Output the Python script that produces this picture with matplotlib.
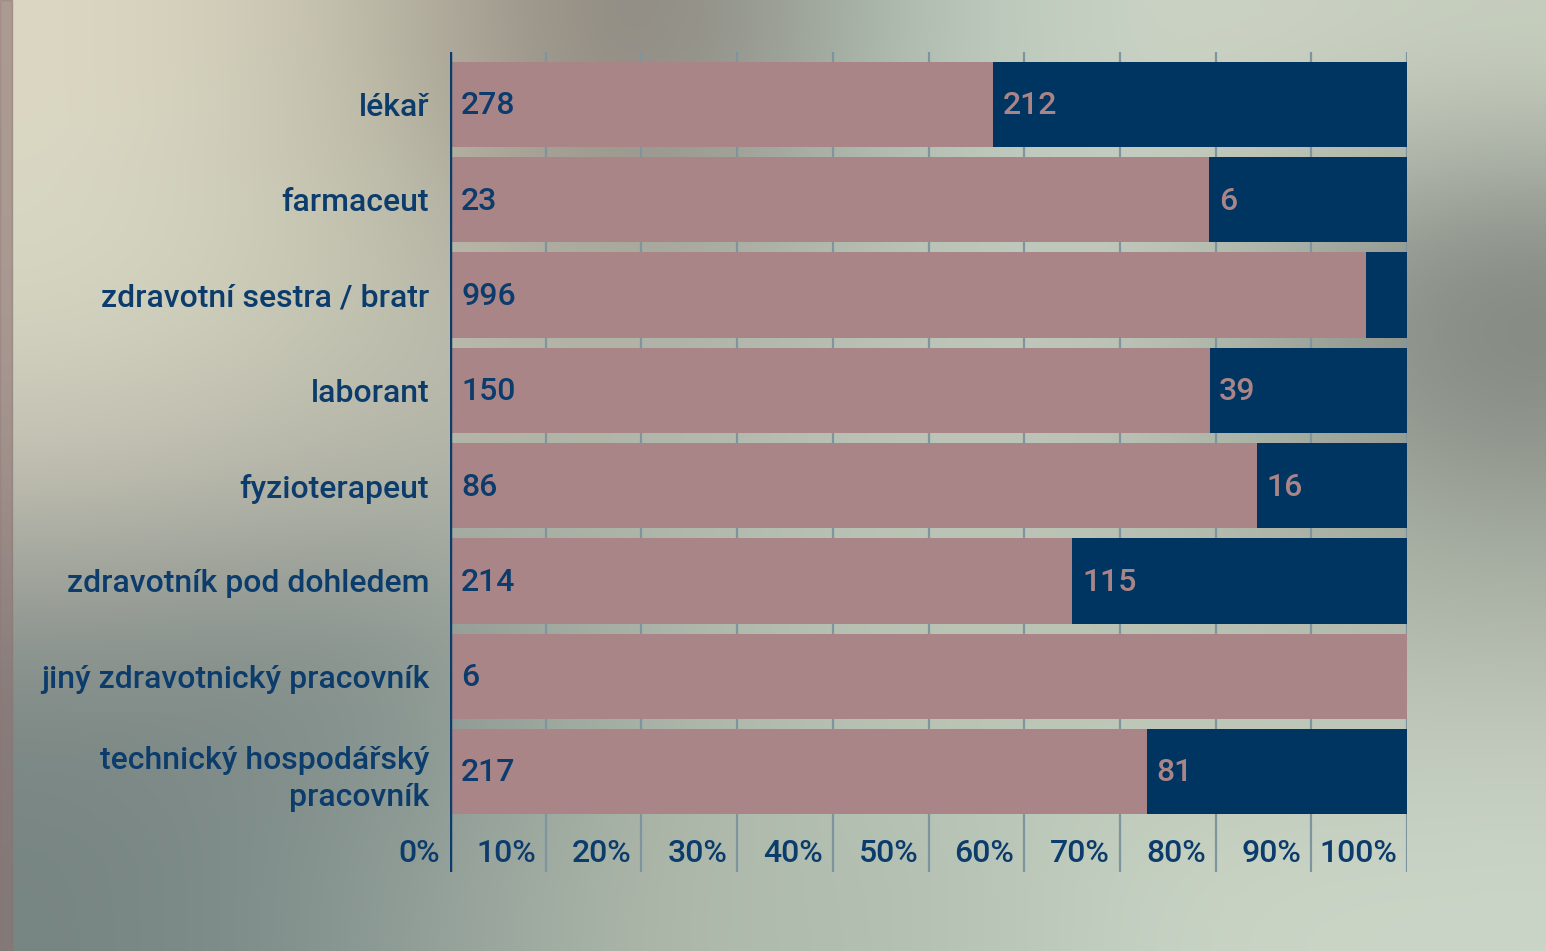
import matplotlib
matplotlib.use('Agg')

import matplotlib.pyplot as plt
import numpy as np

# data
categories = ["lékař", "farmaceut", "zdravotní sestra / bratr", "laborant",
              "fyzioterapeut", "zdravotník pod dohledem",
              "jiný zdravotnický pracovník", "technický hospodářský\npracovník"]
first = [278, 23, 996, 150, 86, 214, 6, 217]
second = [212, 6, 45, 39, 16, 115, 0, 81]
tick_values = [0, 10, 20, 30, 40, 50, 60, 70, 80, 90, 100]
tick_labels = ["0%", "10%", "20%", "30%", "40%", "50%", "60%", "70%", "80%", "90%", "100%"]

PINK = '#aa8588'
NAVY = '#003562'
TEXT = '#0c3c6c'
FS = 23
FW = 500

plt.rcParams['font.family'] = ['Roboto', 'DejaVu Sans']

fig = plt.figure(figsize=(15.46, 9.51), dpi=100)

# blurred-photo style background (rough colour field)
bg = np.array([
    [[221, 216, 196], [190, 188, 168], [128, 117, 112], [176, 196, 182], [208, 214, 200], [200, 208, 192]],
    [[214, 216, 196], [196, 196, 176], [170, 170, 160], [190, 200, 186], [196, 204, 190], [116, 120, 116]],
    [[196, 192, 178], [180, 180, 168], [176, 184, 170], [188, 198, 184], [186, 194, 180], [150, 156, 146]],
    [[130, 140, 136], [122, 136, 134], [168, 178, 166], [190, 200, 184], [184, 194, 178], [184, 192, 178]],
    [[118, 132, 130], [140, 154, 150], [176, 186, 170], [176, 190, 176], [200, 212, 196], [204, 214, 200]],
]) / 255.0
bax = fig.add_axes([0, 0, 1, 1], zorder=-1)
bax.imshow(bg, aspect='auto', interpolation='bicubic', extent=[0, 1, 0, 1])
bax.set_axis_off()
fig.patches.append(plt.Rectangle((0, 0), 12 / 1546, 1, transform=fig.transFigure,
                                 color='#8c7272', alpha=0.6, zorder=-0.5))

W, H = 1546, 951
ax = fig.add_axes([450 / W, 1 - 872 / H, 957 / W, 820 / H])
ax.patch.set_alpha(0)
for s in ax.spines.values():
    s.set_visible(False)

y = np.arange(len(categories))
total = np.array(first) + np.array(second)
p1 = np.array(first) / total * 100
p2 = np.array(second) / total * 100

for v in tick_values[1:]:
    ax.axvline(v, color='#7e95a0', lw=1.6, zorder=0)
ax.axvline(0, color=TEXT, lw=3.2, zorder=4)

ax.barh(y, p1, height=0.895, color=PINK, zorder=2)
ax.barh(y, p2, left=p1, height=0.895, color=NAVY, zorder=2)

for i in range(len(categories)):
    ax.annotate(str(first[i]), (0, y[i]), xytext=(8, -1), textcoords='offset points',
                ha='left', va='center', fontsize=FS, fontweight=FW, color=TEXT, zorder=5)
    if p2[i] >= 5:
        ax.annotate(str(second[i]), (p1[i], y[i]), xytext=(7, -1), textcoords='offset points',
                    ha='left', va='center', fontsize=FS, fontweight=FW, color=PINK, zorder=5)

ax.set_xlim(0, 100)
ax.set_ylim(8.054, -0.55)
ax.set_xticks([])
ax.set_yticks(y)
ax.set_yticklabels(categories, fontsize=FS, fontweight=FW, color=TEXT, linespacing=1.35)
ax.tick_params(axis='y', length=0, pad=15)

for v, lab in zip(tick_values, tick_labels):
    ax.annotate(lab, (v, 7.844), xytext=(-7, -1), textcoords='offset points',
                ha='right', va='center', fontsize=FS, fontweight=FW, color=TEXT)

fig.savefig('out.png', dpi=100)
